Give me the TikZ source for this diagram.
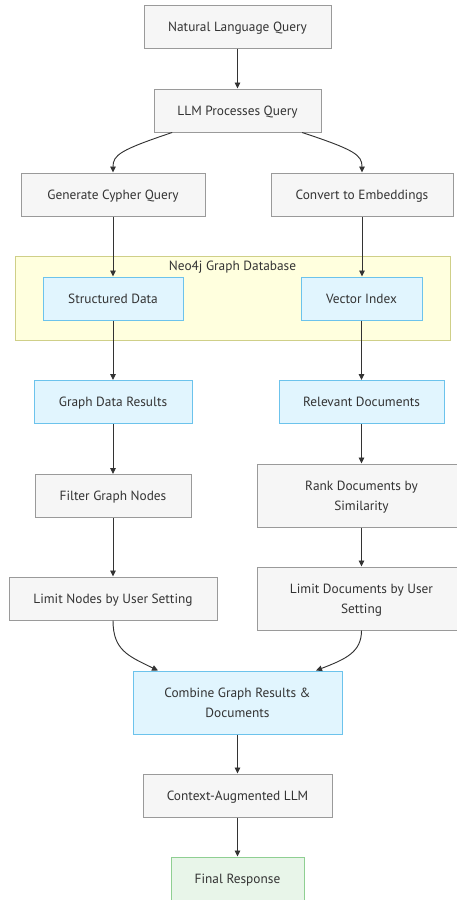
\documentclass[tikz,border=0pt]{standalone}
\usepackage{fontspec}
\setmainfont{PT Sans}
\usetikzlibrary{positioning,arrows.meta}

\definecolor{inkgray}{HTML}{333333}
\definecolor{plainfill}{HTML}{F6F6F6}
\definecolor{plainline}{HTML}{9A9A9A}
\definecolor{bluefill}{HTML}{E1F5FE}
\definecolor{blueline}{HTML}{6CC3EC}
\definecolor{greenfill}{HTML}{E8F5E9}
\definecolor{greenline}{HTML}{8FCF92}
\definecolor{dbfill}{HTML}{FFFFDE}
\definecolor{dbline}{HTML}{CFCF88}

\tikzset{
  plainbox/.style={draw=plainline, fill=plainfill, line width=0.75pt, inner sep=0pt,
    minimum height=32.25pt, align=center, text=inkgray, text depth=0pt},
  bluebox/.style={plainbox, draw=blueline, fill=bluefill},
  greenbox/.style={plainbox, draw=greenline, fill=greenfill},
  flow/.style={draw=inkgray, line width=0.7pt, -{Triangle[length=4.5pt,width=4.2pt]}}
}

\begin{document}
\begin{tikzpicture}[x=0.75pt, y=-0.75pt, font=\fontsize{10}{15}\selectfont]
    \useasboundingbox (0,0) rectangle (457,900);

    % database cluster
    \node[draw=dbline, fill=dbfill, line width=0.75pt, minimum width=326.25pt,
      minimum height=63pt, inner sep=0pt] (db) at (232.5,298) {};
    \node[text=inkgray] (dblabel) at (232.5,267) {Neo4j Graph Database};

    % top
    \node[plainbox, minimum width=140.25pt] (nlq) at (237.5,26.5) {Natural Language Query};
    \node[plainbox, minimum width=125.25pt] (llm) at (237.5,110.5) {LLM Processes Query};
    \node[plainbox, minimum width=138pt] (cypher) at (113,194.5) {Generate Cypher Query};
    \node[plainbox, minimum width=136.5pt] (embed) at (362,194.5) {Convert to Embeddings};

    % inside the database
    \node[bluebox, minimum width=105pt] (struct) at (113,298.5) {Structured Data};
    \node[bluebox, minimum width=90.75pt] (vindex) at (361.5,298.5) {Vector Index};

    % left branch
    \node[bluebox, minimum width=118.5pt] (gresults) at (113,402) {Graph Data Results};
    \node[plainbox, minimum width=117pt] (filter) at (113,496) {Filter Graph Nodes};
    \node[plainbox, minimum width=156pt] (limnodes) at (113,598.5) {Limit Nodes by User Setting};

    % right branch
    \node[bluebox, minimum width=123.75pt] (reldocs) at (361.5,402) {Relevant Documents};
    \node[plainbox, minimum width=156.75pt, minimum height=47.25pt] (rank) at (361.5,495.5)
      {Rank Documents by\\Similarity};
    \node[plainbox, minimum width=156.75pt, minimum height=47.25pt] (limdocs) at (361.5,598.5)
      {Limit Documents by User\\Setting};

    % bottom
    \node[bluebox, minimum width=156.75pt, minimum height=47.25pt] (combine) at (237.5,702.5)
      {Combine Graph Results \&\\Documents};
    \node[plainbox, minimum width=141.75pt] (context) at (237.5,795.5) {Context-Augmented LLM};
    \node[greenbox, minimum width=99.75pt] (final) at (237.5,878.5) {Final Response};

    % connectors
    \draw[flow] (nlq) -- (llm);
    \draw[flow] ([xshift=-49pt]llm.south) .. controls (120,150) and (113,155) .. (cypher.north);
    \draw[flow] ([xshift=48.5pt]llm.south) .. controls (355,150) and (362,155) .. (embed.north);
    \draw[flow] (cypher) -- (struct);
    \draw[flow] (embed.south) -- (embed.south |- vindex.north);
    \draw[flow] (struct) -- (gresults);
    \draw[flow] (vindex) -- (reldocs);
    \draw[flow] (gresults) -- (filter);
    \draw[flow] (filter) -- (limnodes);
    \draw[flow] (reldocs) -- (rank);
    \draw[flow] (rank) -- (limdocs);
    \draw[flow] (limnodes.south) .. controls (113,650) and (128,656) .. ([xshift=-59.6pt]combine.north);
    \draw[flow] (limdocs.south) .. controls (361.5,652) and (346,659) .. ([xshift=58.9pt]combine.north);
    \draw[flow] (combine) -- (context);
    \draw[flow] (context) -- (final);
\end{tikzpicture}
\end{document}
